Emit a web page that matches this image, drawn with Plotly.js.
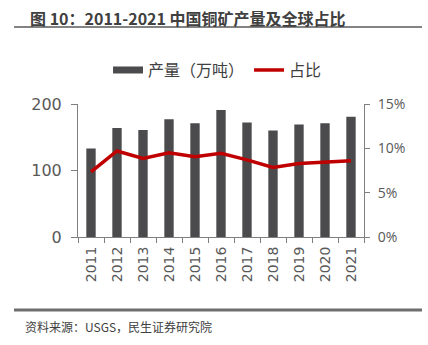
<!DOCTYPE html>
<html><head><meta charset="utf-8">
<script src="https://cdn.plot.ly/plotly-3.0.1.min.js"></script>
<style>html,body{margin:0;padding:0;background:#fff}#c{width:428px;height:345px}</style>
</head><body><div id="c"></div>
<script>
const years = ['2011','2012','2013','2014','2015','2016','2017','2018','2019','2020','2021'];
const output = [133, 164, 161, 177, 171, 191, 172, 160, 169, 171, 181];
const share = [7.35, 9.7, 8.85, 9.5, 9.05, 9.45, 8.7, 7.85, 8.3, 8.45, 8.6];

const cjk = '"Noto Sans CJK SC", "Noto Sans", sans-serif';
const num = '"DejaVu Sans", sans-serif';
const gray = '#595959';
const axisCol = '#7f7f7f';
const barCol = '#4b4b4d';

const data = [
  {type:'bar', x:years, y:output, name:'产量（万吨）', marker:{color:barCol}, width:0.36, yaxis:'y', showlegend:false},
  {type:'scatter', mode:'lines', x:[null], y:[null], name:'产量（万吨）', line:{color:barCol, width:7}, yaxis:'y', hoverinfo:'skip'},
  {type:'scatter', mode:'lines', x:years, y:share, name:'占比', line:{color:'#c00000', width:3.5}, yaxis:'y2'}
];
const layout = {
  width:428, height:345,
  margin:{l:78, r:64, t:104, b:108},
  paper_bgcolor:'#fff', plot_bgcolor:'#fff',
  font:{family:cjk, color:gray},
  showlegend:true,
  legend:{orientation:'h', x:0.105, xanchor:'left', y:1.255, yanchor:'middle', font:{size:16, color:'#404040', family:cjk}, tracegroupgap:0, traceorder:'normal'},
  xaxis:{type:'category', tickangle:-90, tickfont:{size:14, color:gray, family:num}, showline:true, linecolor:axisCol, linewidth:1, ticks:'outside', ticklen:5, tickcolor:axisCol, tickson:'boundaries', showgrid:false, zeroline:false, ticklabelstandoff:3},
  yaxis:{range:[0,200], dtick:100, tickfont:{size:16, color:gray, family:num}, showline:true, linecolor:axisCol, ticks:'outside', ticklen:6, tickcolor:axisCol, showgrid:false, zeroline:false, ticklabelstandoff:6},
  yaxis2:{range:[0,15], dtick:5, ticksuffix:'%', overlaying:'y', side:'right', tickfont:{size:14, color:gray, family:'"Open Sans", sans-serif'}, showline:true, linecolor:axisCol, ticks:'outside', ticklen:5, tickcolor:axisCol, showgrid:false, zeroline:false, ticklabelstandoff:5},
  shapes:[
    {type:'line', xref:'paper', yref:'paper', x0:(14-78)/286, x1:(422-78)/286, y0:(345-104-31)/133, y1:(345-104-31)/133, line:{color:'#5a5a5a', width:1.5}},
    {type:'line', xref:'paper', yref:'paper', x0:(14-78)/286, x1:(422-78)/286, y0:(237-310)/133, y1:(237-310)/133, line:{color:'#6e6e6e', width:3}}
  ],
  annotations:[
    {xref:'paper', yref:'paper', x:(28-78)/286, y:(237-18)/133, xanchor:'left', yanchor:'middle', align:'left', showarrow:false, text:'图 10：2011-2021 中国铜矿产量及全球占比', font:{size:16, color:'#404040', family:cjk, weight:700}},
    {xref:'paper', yref:'paper', x:(23-78)/286, y:(237-326)/133, xanchor:'left', yanchor:'middle', align:'left', showarrow:false, text:'资料来源：USGS，民生证券研究院', font:{size:12, color:'#404040', family:cjk}}
  ]
};
Plotly.newPlot('c', data, layout, {displayModeBar:false, staticPlot:true});
</script></body></html>
